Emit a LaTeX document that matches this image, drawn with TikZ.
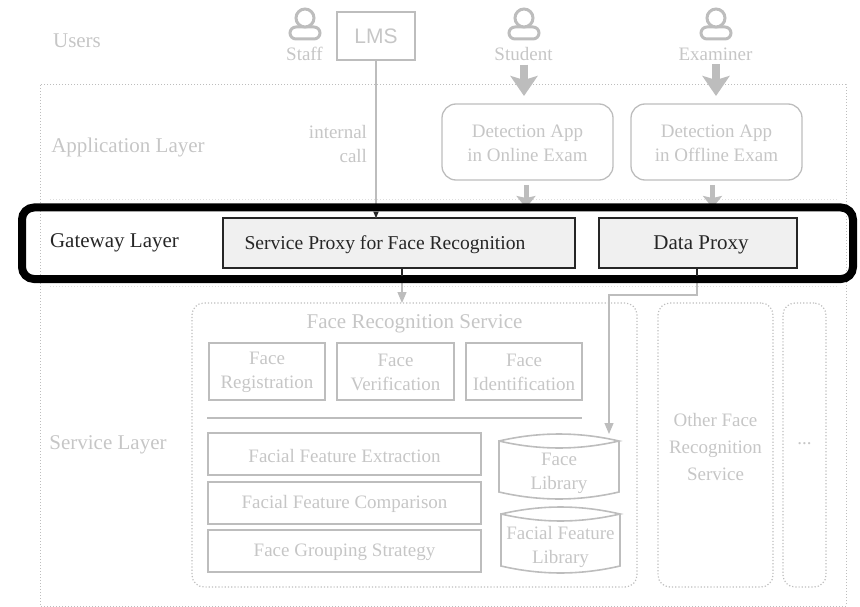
\documentclass[tikz,border=0pt]{standalone}
\usepackage{fontspec}
\setmainfont{Liberation Serif}
\setsansfont{Liberation Sans}
\usetikzlibrary{arrows.meta,shapes.misc}
\definecolor{fadeline}{HTML}{BDBDBD}
\definecolor{fadetext}{HTML}{C6C6C6}
\definecolor{proxyfill}{HTML}{F0F0F0}
\newcommand{\sizeN}{\fontsize{19}{24}\selectfont}
\newcommand{\sizeL}{\fontsize{21}{24}\selectfont}

\begin{document}
\begin{tikzpicture}[x=1pt,y=-1pt]
        \tikzstyle{every node}=[inner sep=0pt,outer sep=0pt,align=center,text=fadetext,font=\sizeN]
        \tikzstyle{layer}=[font=\sizeL]
        \tikzstyle{sbox}=[draw=fadeline,line width=1.3pt]
        \tikzstyle{appbox}=[sbox,rounded corners=14pt,minimum width=171pt,minimum height=76pt]
        \tikzstyle{facebox}=[sbox,minimum width=116pt,minimum height=57pt]
        \tikzstyle{barbox}=[sbox,line width=1.1pt,minimum width=273pt,minimum height=42pt]
        \tikzstyle{dotbox}=[draw=fadeline,dotted,line width=1.2pt,rounded corners=12pt,minimum height=284pt]
        \tikzstyle{proxy}=[draw=black!85,line width=1.4pt,fill=proxyfill,text=black!85,minimum height=50pt]
        \tikzstyle{library}=[minimum width=120pt,minimum height=65pt]
        \tikzstyle{libline}=[draw=fadeline,line width=1.6pt]
        \tikzstyle{head}=[circle,draw=fadeline,line width=3pt,fill=white,minimum size=18pt]
        \tikzstyle{body}=[rounded rectangle,draw=fadeline,line width=3pt,minimum width=30pt,minimum height=12pt]
        \tikzstyle{link}=[draw=fadeline,line width=1.3pt,-{Triangle[width=9pt,length=11pt]}]
        \tikzstyle{bigarrow}=[draw=fadeline,line width=8pt,-{Stealth[width=27pt,length=20pt,inset=4pt]}]
        \tikzstyle{smallarrow}=[draw=fadeline,line width=5pt,-{Stealth[width=19pt,length=12pt,inset=2pt]}]
        \useasboundingbox (0,0) rectangle (860,607);
        % layers
        \draw[draw=fadeline,dotted,line width=1pt] (40,85) rectangle (846,606);
        \coordinate (gateleft) at (50,200); \coordinate (gateright) at (838,200);
        \coordinate (serviceleft) at (50,286); \coordinate (serviceright) at (838,286);
        \draw[draw=fadeline!50,dotted,line width=1pt] (gateleft) -- (gateright);
        \draw[draw=fadeline!50,dotted,line width=1pt] (serviceleft) -- (serviceright);
        \node[layer] (users) at (77,41) {Users};
        \node[layer] (applayer) at (128,147) {Application Layer};
        \node[layer,text=black!85] (gatelayer) at (114.5,243) {Gateway Layer};
        \node[layer] (servicelayer) at (108,445) {Service Layer};
        % users
        \foreach \name/\who/\px in {staff/Staff/305,student/Student/524,examiner/Examiner/716}{
            \node[body] (\name body) at (\px,33) {};
            \node[head] (\name head) at (\px,18) {};
            \node (\name) at (\px-0.5,54) {\who};
        }
        \node[sbox,font=\sffamily\sizeL,minimum width=78pt,minimum height=48pt] (lms) at (376,36) {LMS};
        % application layer
        \node[appbox] (online) at (527.5,142) {};
        \node (onlinetext) at (527.5,143) {Detection App\\[0pt]in Online Exam};
        \node[appbox] (offline) at (716.5,142) {};
        \node (offlinetext) at (716.5,143) {Detection App\\[0pt]in Offline Exam};
        \node[anchor=east] (internal) at (367,132) {internal};
        \node[anchor=east] (call) at (367,156) {call};
        % gateway layer
        \node[proxy,minimum width=352pt] (faceproxy) at (399,243) {};
        \node[text=black!85,font=\fontsize{19.6}{24}\selectfont] (faceproxytext) at (385,244.5) {Service Proxy for Face Recognition};
        \node[proxy,minimum width=198pt] (dataproxy) at (698,243) {};
        \node[text=black!85,font=\sizeL] (dataproxytext) at (701,244.5) {Data Proxy};
        % service layer
        \node[dotbox,minimum width=445pt] (faceservice) at (414.5,445) {};
        \node[layer] (servicetitle) at (414.5,324) {Face Recognition Service};
        \node[facebox] (registration) at (267,371.5) {};
        \node (registrationtext) at (267,372) {Face\\[0pt]Registration};
        \node[facebox,minimum width=117pt] (verification) at (395.5,371.5) {};
        \node (verificationtext) at (395.5,372) {Face\\[0pt]Verification};
        \node[facebox] (identification) at (524,371.5) {};
        \node (identificationtext) at (524,372) {Face\\[0pt]Identification};
        \coordinate (ruleleft) at (207,418); \coordinate (ruleright) at (582,418);
        \draw[draw=fadeline,line width=1.2pt] (ruleleft) -- (ruleright);
        \node[barbox] (extraction) at (344.5,454) {};
        \node (extractiontext) at (344.5,456) {Facial Feature Extraction};
        \node[barbox] (comparison) at (344.5,503) {};
        \node (comparisontext) at (344.5,504) {Facial Feature Comparison};
        \node[barbox] (grouping) at (344.5,551) {};
        \node (groupingtext) at (344.5,552) {Face Grouping Strategy};
        \node[library] (facelib) at (559,466.5) {};
        \node at (559,473) (facelibtext) {Face\\[0pt]Library};
        \node[library,minimum width=119pt,minimum height=66pt] (featurelib) at (560.5,540) {};
        \node at (560.5,547) (featurelibtext) {Facial Feature\\[0pt]Library};
        \foreach \lib in {facelib,featurelib}{
            \draw[libline] ([yshift=-7pt]\lib.north west) .. controls ([xshift=40pt,yshift=2.3pt]\lib.north west) and ([xshift=-40pt,yshift=2.3pt]\lib.north east) .. ([yshift=-7pt]\lib.north east)
                .. controls ([xshift=-40pt,yshift=-16.3pt]\lib.north east) and ([xshift=40pt,yshift=-16.3pt]\lib.north west) .. ([yshift=-7pt]\lib.north west)
                -- ([yshift=7pt]\lib.south west) .. controls ([xshift=40pt,yshift=-2.3pt]\lib.south west) and ([xshift=-40pt,yshift=-2.3pt]\lib.south east) .. ([yshift=7pt]\lib.south east)
                -- ([yshift=-7pt]\lib.north east);
        }
        \node[dotbox,minimum width=115pt] (otherservice) at (715.5,445) {};
        \node (otherservicetext) at (715.5,447) {Other Face\\[3pt]Recognition\\[3pt]Service};
        \node[dotbox,minimum width=43pt] (moreservice) at (804.5,445) {};
        \node (moredots) at (804.5,444) {...};
        % connectors
        \draw[link] (lms.south) -- (lms.south |- faceproxy.north);
        \draw[link] ([xshift=3pt]faceproxy.south) -- ([xshift=3pt]faceproxy.south |- faceservice.north);
        \coordinate (turnright) at (697,295); \coordinate (turnleft) at (609,295);
        \draw[link] (dataproxy.south -| turnright) -- (turnright) -- (turnleft) -- (turnleft |- facelib.north);
        \draw[bigarrow,shorten <=4pt] (student.south -| studentbody) -- ([yshift=8pt]studentbody |- online.north);
        \draw[bigarrow,shorten <=4pt] (examiner.south -| examinerbody) -- ([yshift=8pt]examinerbody |- offline.north);
        \draw[smallarrow,shorten <=5pt,shorten >=10pt] ([xshift=-1.5pt]online.south) -- ([xshift=-1.5pt]online.south |- faceproxy.north);
        \draw[smallarrow,shorten <=5pt,shorten >=10pt] ([xshift=-4pt]offline.south) -- ([xshift=-4pt]offline.south |- dataproxy.north);
        % highlight of the gateway layer
        \draw[black,line width=8pt,rounded corners=12pt] (22,207.5) rectangle (853,279);
        \begin{scope}
            \clip (26,212) rectangle (849,275);
            \draw[link,draw=black!85,fill=black!85] (lms.south) -- (lms.south |- faceproxy.north);
            \draw[draw=black!85,line width=1.3pt] ([xshift=3pt]faceproxy.south) -- ++(0,10);
            \draw[draw=black!85,line width=1.3pt] (dataproxy.south -| turnright) -- (turnright);
        \end{scope}
    \end{tikzpicture}
\end{document}
